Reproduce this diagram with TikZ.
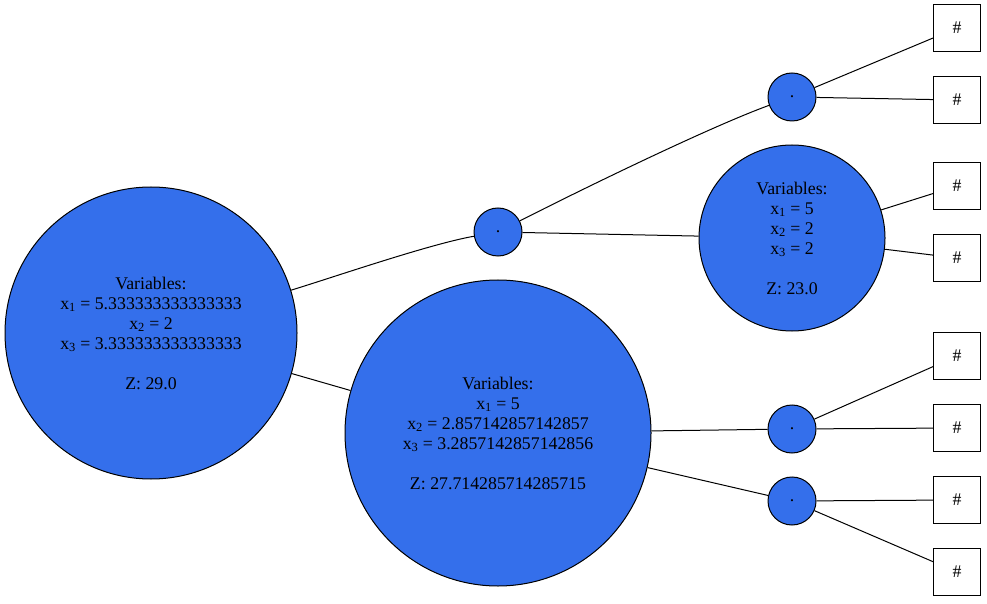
\documentclass[tikz,border=0pt]{standalone}
\usepackage{fontspec}
\setmainfont{Liberation Serif}
\definecolor{nodeblue}{RGB}{52,111,235}

\begin{document}
\begin{tikzpicture}[
    x=1pt, y=1pt,
    state/.style={
        circle, draw=black, line width=1pt, fill=nodeblue,
        inner sep=0pt, align=center,
        font=\fontsize{17.8}{20}\selectfont
    },
    dot/.style={state, minimum size=48pt},
    leaf/.style={
        rectangle, draw=black, line width=1pt, fill=white,
        minimum size=47pt, inner sep=0pt,
        font=\fontsize{17.8}{20}\selectfont
    },
    edge/.style={line width=1pt}
]
\useasboundingbox (0,0) rectangle (987,603);
% Solution nodes
\node[state, minimum size=292pt] (root) at (151,270) {Variables:\\
    x\textsubscript{1} = 5.333333333333333\\
    x\textsubscript{2} = 2\\
    x\textsubscript{3} = 3.333333333333333\\[20pt]
    Z: 29.0};
\node[state, minimum size=306pt] (B) at (498,170) {Variables:\\
    x\textsubscript{1} = 5\\
    x\textsubscript{2} = 2.857142857142857\\
    x\textsubscript{3} = 3.2857142857142856\\[20pt]
    Z: 27.714285714285715};
\node[state, minimum size=186pt] (D) at (792,365) {Variables:\\
    x\textsubscript{1} = 5\\
    x\textsubscript{2} = 2\\
    x\textsubscript{3} = 2\\[20pt]
    Z: 23.0};
% Branch points
\node[dot] (A) at (498,371) {.};
\node[dot] (C) at (792,506) {.};
\node[dot] (E) at (792,174) {.};
\node[dot] (F) at (792,102) {.};
% Leaves
\foreach \i/\y in {1/575, 2/503, 3/417, 4/345, 5/247, 6/175, 7/103, 8/31}
    \node[leaf] (L\i) at (957,\y) {\#};
% Edges
\draw[edge] (root) to[out=17, in=190, looseness=0.6] (A);
\draw[edge] (root) -- (B);
\draw[edge] (A) to[out=27, in=200, looseness=0.6] (C);
\draw[edge] (A) -- (D);
\draw[edge] (C) -- (L1);
\draw[edge] (C) -- (L2);
\draw[edge] (D) -- (L3);
\draw[edge] (D) -- (L4);
\draw[edge] (B) -- (E);
\draw[edge] (B) -- (F);
\draw[edge] (E) -- (L5);
\draw[edge] (E) -- (L6);
\draw[edge] (F) -- (L7);
\draw[edge] (F) -- (L8);
\end{tikzpicture}
\end{document}
